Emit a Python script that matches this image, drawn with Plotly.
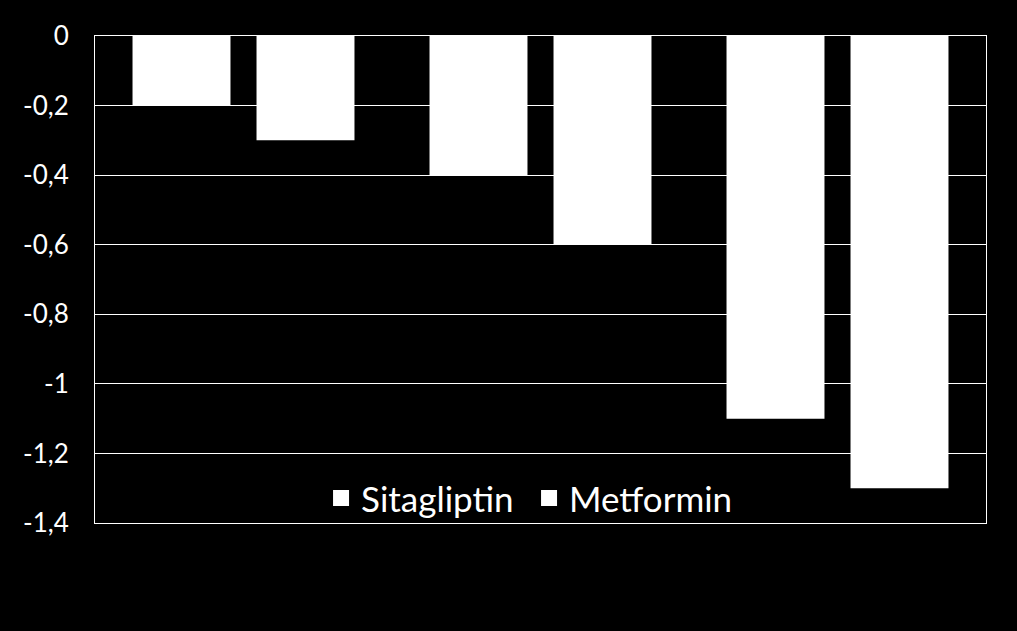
import plotly.graph_objects as go

categories = ["A", "B", "C"]
series_names = ["Sitagliptin", "Metformin"]
sitagliptin = [-0.2, -0.4, -1.1]
metformin = [-0.3, -0.6, -1.3]
tick_vals = [0, -0.2, -0.4, -0.6, -0.8, -1, -1.2, -1.4]
tick_text = ["0", "-0,2", "-0,4", "-0,6", "-0,8", "-1", "-1,2", "-1,4"]

FONT = "Lato"

fig = go.Figure()
for name, vals in zip(series_names, [sitagliptin, metformin]):
    fig.add_trace(go.Bar(name=name, x=categories, y=vals, showlegend=False,
                         marker=dict(color="white", line=dict(width=0))))
# legend entries with larger square symbols
for name in series_names:
    fig.add_trace(go.Scatter(name=name, x=[None], y=[None], mode="markers",
                             marker=dict(symbol="square", size=21, color="white"),
                             showlegend=True))

fig.update_layout(
    width=1017, height=631,
    paper_bgcolor="black", plot_bgcolor="black",
    margin=dict(l=95, r=31, t=36, b=108),
    barmode="group", bargap=0.165, bargroupgap=0.21,
    font=dict(family=FONT, color="white"),
    showlegend=True,
    legend=dict(orientation="h", x=0.2537, xanchor="left", y=0.051, yanchor="middle",
                bgcolor="rgba(0,0,0,0)", font=dict(size=35, color="white", family=FONT),
                itemwidth=30, entrywidth=163, entrywidthmode="pixels",
                traceorder="normal"),
    xaxis=dict(showticklabels=False, showgrid=False, zeroline=False,
               showline=True, linecolor="white", linewidth=1, mirror=True, ticks=""),
    yaxis=dict(range=[-1.4, 0], tickvals=tick_vals, ticktext=tick_text,
               showgrid=True, gridcolor="white", gridwidth=1, zeroline=False,
               showline=True, linecolor="white", linewidth=1, mirror=True,
               ticks="", ticklabelstandoff=20,
               tickfont=dict(size=26, color="white", family=FONT)),
)

fig.write_html(
    "out.html",
    config={"displayModeBar": False},
    post_script="document.body.style.margin='0';document.body.style.background='black';",
)
